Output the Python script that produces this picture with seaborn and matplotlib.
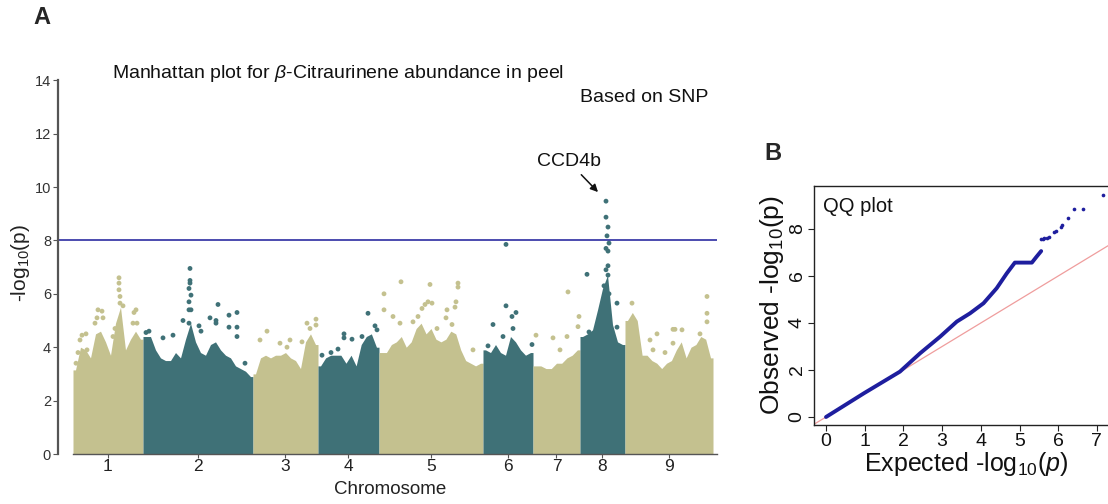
import numpy as np
import pandas as pd
import matplotlib
matplotlib.use("Agg")
import matplotlib.pyplot as plt
import seaborn as sns

# ---------------- data ----------------
chrom_names = ["1", "2", "3", "4", "5", "6", "7", "8", "9"]
chrom_len = [28.0, 44.0, 26.0, 24.4, 41.6, 20.0, 18.8, 18.0, 35.2]  # Mb

# dense-body envelope (-log10 p) sampled evenly along each chromosome
env1 = [3.15, 4.0, 3.9, 3.6, 4.5, 4.6, 4.2, 3.7, 4.9, 5.5, 3.9, 4.3, 4.6, 4.3]
env2 = [4.4, 4.4, 3.9, 3.6, 3.5, 3.5, 3.8, 3.6, 4.3, 4.9, 4.2, 3.8, 3.7, 4.1,
        4.2, 3.9, 3.7, 3.6, 3.3, 3.2, 3.1, 2.9]
env3 = [3.0, 3.6, 3.7, 3.6, 3.7, 3.7, 3.8, 3.6, 3.5, 3.2, 4.2, 4.5, 4.1]
env4 = [3.3, 3.6, 3.7, 3.7, 3.7, 3.4, 3.7, 3.3, 4.1, 4.4, 4.5, 4.0]
env5 = [3.8, 3.8, 4.1, 4.2, 4.4, 4.0, 4.2, 4.7, 4.9, 4.5, 4.7, 4.3, 4.2, 4.3,
        4.6, 4.5, 3.9, 3.5, 3.4, 3.3, 3.4]
env6 = [3.9, 3.8, 4.1, 3.8, 3.7, 4.4, 4.2, 3.9, 3.7, 3.8]
env7 = [3.3, 3.3, 3.2, 3.2, 3.4, 3.4, 3.6, 3.7, 3.9]
env8 = [4.4, 4.5, 4.65, 5.4, 6.2, 6.7, 4.85, 4.2, 4.1]
env9 = [5.0, 5.3, 5.0, 3.7, 3.7, 3.5, 3.4, 3.2, 3.4, 3.5, 3.9, 4.2, 3.6, 4.0,
        4.1, 4.4, 4.3, 3.6]

# scattered SNPs above the dense body: position in chromosome (Mb), -log10 p
c1_pos = [10.0, 11.6, 12.0, 9.6, 18.4, 18.4, 18.4, 18.8, 18.8, 20.0, 25.2, 24.4,
          24.0, 25.6, 3.6, 5.2, 2.8, 5.6, 8.8, 16.8, 16.0, 1.2, 2.0]
c1_val = [5.4, 5.35, 5.1, 5.1, 6.6, 6.4, 6.15, 5.9, 5.65, 5.55, 5.4, 5.3,
          4.9, 4.9, 4.45, 4.5, 4.27, 3.9, 4.9, 4.7, 4.4, 3.4, 3.8]
c2_pos = [18.8, 18.8, 18.8, 18.4, 19.2, 18.4, 18.4, 19.2, 18.4, 30.0, 37.6, 34.4,
          26.8, 29.2, 29.2, 34.4, 37.6, 37.6, 16.0, 8.0, 12.0, 22.4, 23.2, 1.2,
          2.4, 40.8]
c2_val = [6.95, 6.5, 6.4, 6.2, 5.95, 5.7, 5.4, 5.4, 4.9, 5.6, 5.3, 5.2,
          5.1, 5.0, 4.9, 4.75, 4.75, 4.4, 5.0, 4.35, 4.45, 4.8, 4.6, 4.55,
          4.6, 3.4]
c3_pos = [5.6, 2.8, 19.6, 21.6, 25.2, 25.2, 14.8, 10.8, 13.6, 22.8]
c3_val = [4.6, 4.27, 4.2, 4.9, 5.05, 4.83, 4.27, 4.15, 4.0, 4.7]
c4_pos = [20.0, 22.8, 23.6, 17.6, 10.4, 10.4, 13.6, 5.2, 8.0, 1.6]
c4_val = [5.27, 4.8, 4.65, 4.4, 4.5, 4.35, 4.3, 3.8, 3.93, 3.7]
c5_pos = [2.0, 2.0, 8.8, 20.4, 31.6, 31.6, 19.6, 21.2, 18.4, 17.2, 27.2, 30.8,
          30.4, 5.6, 13.6, 15.6, 23.2, 26.8, 37.6, 8.4, 29.2]
c5_val = [6.0, 5.4, 6.45, 6.35, 6.4, 6.25, 5.7, 5.65, 5.6, 5.45, 5.4, 5.7,
          5.5, 5.15, 4.95, 5.15, 4.7, 5.1, 3.9, 4.9, 4.85]
c6_pos = [9.2, 13.2, 11.6, 4.0, 12.0, 8.0, 2.0, 19.6, 9.2]
c6_val = [5.55, 5.3, 5.15, 4.85, 4.7, 4.4, 4.05, 4.1, 7.85]
c7_pos = [14.0, 8.0, 1.2, 18.4, 18.0, 13.6, 10.8]
c7_val = [6.07, 4.35, 4.45, 5.15, 4.77, 4.4, 3.9]
c8_pos = [10.4, 10.4, 11.2, 10.8, 11.6, 10.4, 11.2, 11.2, 2.8, 11.2, 14.8, 14.8,
          8.4, 3.6, 10.4, 9.6, 11.6]
c8_val = [9.47, 8.87, 8.5, 8.17, 7.9, 7.7, 7.6, 7.05, 6.73, 6.7, 5.65, 4.75,
          5.27, 4.57, 6.9, 6.3, 6.0]
c9_pos = [2.8, 32.8, 32.8, 32.8, 12.8, 10.0, 19.2, 20.0, 22.8, 19.2, 11.2, 30.0, 16.0]
c9_val = [5.65, 5.9, 5.27, 4.95, 4.5, 4.27, 4.67, 4.67, 4.65, 4.15, 3.9, 4.5, 3.8]

threshold = 8.0
y_ticks = [0, 2, 4, 6, 8, 10, 12, 14]

# QQ plot
qq_exp_line = [0.0, 0.98, 1.91, 2.43, 2.95, 3.38, 3.72, 4.07, 4.41, 4.67, 4.88,
               5.32, 5.44, 5.56]
qq_obs_line = [0.0, 1.01, 1.93, 2.71, 3.42, 4.06, 4.41, 4.84, 5.48, 6.11, 6.57,
               6.57, 6.82, 7.06]
qq_exp_pts = [5.56, 5.60, 5.64, 5.70, 5.77, 5.90, 5.94, 6.07, 6.11, 6.26, 6.42,
              6.65, 7.15]
qq_obs_pts = [7.57, 7.58, 7.60, 7.61, 7.64, 7.87, 7.90, 8.10, 8.15, 8.45, 8.84,
              8.84, 9.45]
qq_xticks = [0, 1, 2, 3, 4, 5, 6, 7]
qq_yticks = [0, 2, 4, 6, 8]

# ---------------- style ----------------
sns.set_theme(style="white")
plt.rcParams["font.family"] = ["Liberation Sans", "DejaVu Sans"]
plt.rcParams["mathtext.fontset"] = "custom"
plt.rcParams["mathtext.rm"] = "Liberation Sans"
plt.rcParams["mathtext.it"] = "Liberation Sans:italic"
plt.rcParams["mathtext.bf"] = "Liberation Sans:bold"

KHAKI = "#c4c18f"
TEAL = "#3f7177"
chrom_colors = [KHAKI, TEAL] * 5

W, H = 1108, 504
fig = plt.figure(figsize=(W / 100, H / 100), dpi=100)

def px_axes(left, top, right, bottom):
    return fig.add_axes([left / W, 1 - bottom / H, (right - left) / W, (bottom - top) / H])

# ---------------- Manhattan ----------------
px_per_mb = 2.5
ax_top = 454 - 14.3 * 26.7
ax = px_axes(58, ax_top, 722, 454)
offsets = np.concatenate([[0], np.cumsum(chrom_len)[:-1]])
envs = [env1, env2, env3, env4, env5, env6, env7, env8, env9]
pos_list = [c1_pos, c2_pos, c3_pos, c4_pos, c5_pos, c6_pos, c7_pos, c8_pos, c9_pos]
val_list = [c1_val, c2_val, c3_val, c4_val, c5_val, c6_val, c7_val, c8_val, c9_val]

rows = []
for i, name in enumerate(chrom_names):
    e = np.asarray(envs[i])
    n = len(e)
    step = chrom_len[i] / n
    mids = offsets[i] + (np.arange(n) + 0.5) * step
    xs = np.concatenate([[offsets[i]], mids, [offsets[i] + chrom_len[i]]])
    ys = np.concatenate([[e[0]], e, [e[-1]]])
    ax.fill_between(xs, 0, ys, color=chrom_colors[i], linewidth=0)
    for p, v in zip(pos_list[i], val_list[i]):
        rows.append({"chrom": name, "bp": offsets[i] + p, "logp": v})
df = pd.DataFrame(rows)
sns.scatterplot(data=df, x="bp", y="logp", hue="chrom",
                palette=dict(zip(chrom_names, chrom_colors)),
                s=12, linewidth=0, legend=False, ax=ax)

x_end = (717 - 73) / px_per_mb
ax.set_xlim(-(73 - 58) / px_per_mb, (722 - 73) / px_per_mb)
ax.set_ylim(0, 14.3)
ax.hlines(threshold, ax.get_xlim()[0], x_end, color="#1a1a9a", linewidth=1.1)

centers = offsets + np.asarray(chrom_len) / 2
ax.set_xticks(centers)
ax.set_xticklabels(chrom_names, fontsize=12.5, color="#222222")
ax.set_yticks(y_ticks)
ax.set_yticklabels([str(t) for t in y_ticks], fontsize=10.5, color="#333333")
for s in ["top", "right"]:
    ax.spines[s].set_visible(False)
ax.spines["left"].set_bounds(0, 14)
ax.spines["left"].set_color("#555555")
ax.spines["left"].set_linewidth(1.6)
ax.spines["bottom"].set_bounds(0, x_end)
ax.spines["bottom"].set_color("#555555")
ax.spines["bottom"].set_linewidth(1.0)
ax.tick_params(axis="y", which="both", left=True, length=3.5, width=0.8,
               color="#555555", pad=1.5)
ax.tick_params(axis="x", which="both", bottom=True, length=3, width=0.8,
               color="#555555", pad=0.5)
ax.set_xlabel("Chromosome", fontsize=13.5, color="#222222")
ax.xaxis.set_label_coords(0.5, -(490 - 454) / (454 - ax_top))
ax.xaxis.label.set_va("center")
ax.set_ylabel(r"-log$_{10}$(p)", fontsize=15, color="#222222", labelpad=2)
ax.set_facecolor("white")

fig.text(112 / W, 1 - 74 / H, r"Manhattan plot for $\it{\beta}$-Citraurinene abundance in peel",
         fontsize=14, ha="left", va="center", color="#111111")
fig.text(708 / W, 1 - 98 / H, "Based on SNP", fontsize=14, ha="right",
         va="center", color="#111111")
ax.annotate("CCD4b", xy=(offsets[7] + 7.2, 9.81), xycoords="data",
            xytext=(offsets[7] - 4.4, 10.62), textcoords="data",
            fontsize=14, ha="center", va="bottom", color="#111111",
            arrowprops=dict(arrowstyle="-|>", color="#111111", lw=1.1,
                            mutation_scale=11, shrinkA=1, shrinkB=0))
fig.text(42 / W, 1 - 18 / H, "A", fontsize=17, fontweight="bold", ha="center", va="center")

# ---------------- QQ plot ----------------
qx0, qx_per = 826, 38.7
qy0, qy_per = 417, 23.5
qleft, qright, qtop, qbot = 814, 1118, 186, 425
axq = px_axes(qleft, qtop, qright, qbot)
axq.set_xlim((qleft - qx0) / qx_per, (qright - qx0) / qx_per)
axq.set_ylim((qy0 - qbot) / qy_per, (qy0 - qtop) / qy_per)
axq.plot([-1, 12], [-1, 12], color="#ef9d9d", linewidth=0.9, zorder=1)
qq_line = pd.DataFrame({"exp": qq_exp_line, "obs": qq_obs_line})
sns.lineplot(data=qq_line, x="exp", y="obs", color="#1e1e9e", linewidth=2.8,
             sort=False, ax=axq, zorder=3)
qq_pts = pd.DataFrame({"exp": qq_exp_pts, "obs": qq_obs_pts})
sns.scatterplot(data=qq_pts, x="exp", y="obs", color="#1e1e9e", s=7,
                linewidth=0, ax=axq, zorder=3)
axq.set_xticks(qq_xticks)
axq.set_xticklabels([str(t) for t in qq_xticks], fontsize=14, color="#111111")
axq.set_yticks(qq_yticks)
axq.set_yticklabels([str(t) for t in qq_yticks], fontsize=14, color="#111111",
                    rotation=90, va="center")
for s in axq.spines.values():
    s.set_color("#222222")
    s.set_linewidth(1.0)
axq.tick_params(axis="both", which="both", bottom=True, left=True, length=4,
                width=0.8, color="#222222", pad=2)
axq.set_xlabel(r"Expected -log$_{10}$($\it{p}$)", fontsize=18, color="#111111", labelpad=0)
axq.set_ylabel(r"Observed -log$_{10}$(p)", fontsize=19, color="#111111", labelpad=2)
axq.text(0.03, 0.915, "QQ plot", transform=axq.transAxes, fontsize=14.5,
         ha="left", va="center", color="#111111")
fig.text(773 / W, 1 - 153 / H, "B", fontsize=17, fontweight="bold", ha="center", va="center")

fig.savefig("out.png", dpi=100)
